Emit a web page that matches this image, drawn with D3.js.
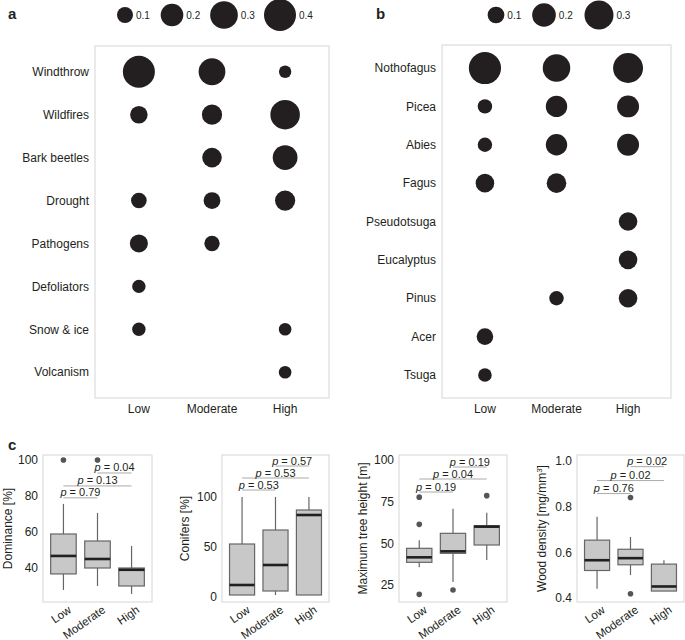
<!DOCTYPE html>
<html><head><meta charset="utf-8">
<script src="https://cdn.jsdelivr.net/npm/d3@7"></script>
<style>
body{margin:0;background:#fff;}
text{font-family:"Liberation Sans",Arial,sans-serif;fill:#231f20;}
</style></head>
<body><svg id="c" width="685" height="640"></svg>
<script>
// ---------- DATA ----------
const levels = ["Low","Moderate","High"];

const disturbances = ["Windthrow","Wildfires","Bark beetles","Drought","Pathogens","Defoliators","Snow & ice","Volcanism"];
const distLow      = [0.40, 0.12, null, 0.095, 0.127, 0.07, 0.07, null];
const distModerate = [0.28, 0.16, 0.15, 0.11, 0.092, null, null, null];
const distHigh     = [0.06, 0.34, 0.24, 0.16, null, null, 0.062, 0.062];
const legendA = [0.1, 0.2, 0.3, 0.4];

const genera = ["Nothofagus","Picea","Abies","Fagus","Pseudotsuga","Eucalyptus","Pinus","Acer","Tsuga"];
const genLow      = [0.37, 0.074, 0.074, 0.123, null, null, null, 0.098, 0.066];
const genModerate = [0.27, 0.163, 0.163, 0.137, null, null, 0.074, null, null];
const genHigh     = [0.32, 0.172, 0.172, null, 0.123, 0.123, 0.123, null, null];
const legendB = [0.1, 0.2, 0.3];

// box stats: [whiskerLow, Q1, median, Q3, whiskerHigh]
const dominanceBoxes = [[27.8,36.7,46.7,58.9,75.6],[30,40,45,55,70.6],[25.6,30,39,40,52.2]];
const dominanceOutliers = [[100],[100],[]];
const dominanceP = [["Low","Moderate","0.79",79],["Low","High","0.13",85.6],["Moderate","High","0.04",92.8]];
const dominanceTicks = [40,60,80,100];

const coniferBoxes = [[2,2,12,53,100],[2,6,32,67,100],[2,2,82,87,100]];
const coniferOutliers = [[],[],[]];
const coniferP = [["Low","Moderate","0.53",107],["Low","High","0.53",119],["Moderate","High","0.57",131]];
const coniferTicks = [0,50,100];

const heightBoxes = [[35.6,38.6,41.6,47,51.8],[26.8,44,45.2,56,70.8],[40,49,60,60.6,68.4]];
const heightOutliers = [[77.7,61.4,19.4],[22],[78.6]];
const heightP = [["Low","Moderate","0.19",80.8],["Low","High","0.04",88.6],["Moderate","High","0.19",95.8]];
const heightTicks = [25,50,75,100];

const densityBoxes = [[0.44,0.52,0.565,0.653,0.755],[0.5,0.545,0.574,0.613,0.667],[0.43,0.43,0.45,0.548,0.565]];
const densityOutliers = [[],[0.84,0.418],[]];
const densityP = [["Low","Moderate","0.76",0.857],["Low","High","0.02",0.914],["Moderate","High","0.02",0.975]];
const densityTicks = [0.4,0.6,0.8,1.0];

// ---------- DRAW ----------
const svg = d3.select("#c");
const FONT = "Liberation Sans, Arial, sans-serif";

function panelLabel(t,x,y){
  svg.append("text").attr("x",x).attr("y",y).attr("font-size",15).attr("font-weight","bold").text(t);
}

function bubblePanel(opt){
  const {rows, series, legend, left, right, top, bottom, rMax, vMax, legendX} = opt;
  const x = d3.scalePoint().domain(levels).range([left,right]).padding(0.6);
  const y = d3.scalePoint().domain(rows).range([top,bottom]).padding(0.6);
  const r = d3.scaleSqrt().domain([0,vMax]).range([0,rMax]);
  const g = svg.append("g");
  g.append("rect").attr("x",left).attr("y",top).attr("width",right-left).attr("height",bottom-top)
    .attr("fill","none").attr("stroke","#d6d6d6").attr("stroke-width",1);
  const pts = [];
  series.forEach((vals,i)=>vals.forEach((v,j)=>{ if(v!=null) pts.push({lvl:levels[i],row:rows[j],v}); }));
  g.selectAll("circle.pt").data(pts).join("circle").attr("class","pt")
    .attr("cx",d=>x(d.lvl)).attr("cy",d=>y(d.row)).attr("r",d=>r(d.v)).attr("fill","#231f20");
  g.selectAll("text.row").data(rows).join("text").attr("class","row")
    .attr("x",left-6).attr("y",d=>y(d)).attr("dy","0.35em").attr("text-anchor","end")
    .attr("font-size",12).attr("fill","#333").text(d=>d);
  g.selectAll("text.col").data(levels).join("text").attr("class","col")
    .attr("x",d=>x(d)).attr("y",bottom+15).attr("text-anchor","middle")
    .attr("font-size",12).attr("fill","#333").text(d=>d);
  const lg = svg.append("g");
  legend.forEach((v,i)=>{
    const cx = legendX[i];
    lg.append("circle").attr("cx",cx).attr("cy",15).attr("r",r(v)).attr("fill","#231f20");
    lg.append("text").attr("x",cx+r(v)+3).attr("y",15).attr("dy","0.35em").attr("font-size",10)
      .attr("fill","#555").text(v.toFixed(1));
  });
}

bubblePanel({rows:disturbances, series:[distLow,distModerate,distHigh], legend:legendA,
  left:95,right:329,top:46,bottom:398,rMax:16,vMax:0.4,legendX:[125,172,224,280]});
bubblePanel({rows:genera, series:[genLow,genModerate,genHigh], legend:legendB,
  left:442,right:671,top:45,bottom:398,rMax:14.5,vMax:0.3,legendX:[496,544,599]});

panelLabel("a",8,19);
panelLabel("b",376,19);
panelLabel("c",8,450);

function boxPanel(opt){
  const {left,right,top,bottom,domain,ticks,fmt,boxes,outliers,pvals,ylabel,ylabelX} = opt;
  const x = d3.scalePoint().domain(levels).range([left,right]).padding(0.6);
  const y = d3.scaleLinear().domain(domain).range([bottom,top]);
  const bw = x.step()*0.75;
  const g = svg.append("g");
  g.append("rect").attr("x",left).attr("y",top).attr("width",right-left).attr("height",bottom-top)
    .attr("fill","none").attr("stroke","#d6d6d6").attr("stroke-width",1);
  const axis = d3.axisLeft(y).tickValues(ticks).tickSize(0).tickPadding(5).tickFormat(fmt);
  const ag = g.append("g").attr("transform",`translate(${left},0)`).call(axis);
  ag.select(".domain").remove();
  ag.selectAll("text").attr("font-size",12).attr("fill","#333").attr("font-family",FONT);
  boxes.forEach((b,i)=>{
    const cx = x(levels[i]);
    g.append("line").attr("x1",cx).attr("x2",cx).attr("y1",y(b[0])).attr("y2",y(b[1])).attr("stroke","#666").attr("stroke-width",1.2);
    g.append("line").attr("x1",cx).attr("x2",cx).attr("y1",y(b[3])).attr("y2",y(b[4])).attr("stroke","#666").attr("stroke-width",1.2);
    g.append("rect").attr("x",cx-bw/2).attr("y",y(b[3])).attr("width",bw).attr("height",Math.max(0.5,y(b[1])-y(b[3])))
      .attr("fill","#c8c8c8").attr("stroke","#666").attr("stroke-width",1.2);
    g.append("line").attr("x1",cx-bw/2).attr("x2",cx+bw/2).attr("y1",y(b[2])).attr("y2",y(b[2])).attr("stroke","#231f20").attr("stroke-width",2.6);
    outliers[i].forEach(o=>{
      g.append("circle").attr("cx",cx).attr("cy",y(o)).attr("r",2.8).attr("fill","#555");
    });
  });
  pvals.forEach(p=>{
    const x1 = x(p[0]), x2 = x(p[1]), yy = y(p[3]);
    g.append("line").attr("x1",x1).attr("x2",x2).attr("y1",yy).attr("y2",yy).attr("stroke","#aaa").attr("stroke-width",1);
    const t = g.append("text").attr("x",(x1+x2)/2).attr("y",yy-1.5).attr("text-anchor","middle").attr("font-size",11).attr("fill","#333");
    t.append("tspan").attr("font-style","italic").text("p");
    t.append("tspan").text(" = "+p[2]);
  });
  g.selectAll("text.xl").data(levels).join("text").attr("class","xl")
    .attr("transform",d=>`translate(${x(d)+4},${bottom+3}) rotate(-35)`)
    .attr("dy","0.71em").attr("text-anchor","end").attr("font-size",11.5).attr("fill","#333").text(d=>d);
  const yl = g.append("text").attr("transform",`translate(${ylabelX},${(top+bottom)/2}) rotate(-90)`)
    .attr("text-anchor","middle").attr("dy","0.35em").attr("font-size",12).attr("fill","#333");
  ylabel(yl);
}

boxPanel({left:43,right:152,top:455,bottom:602,domain:[21.1,102.8],ticks:dominanceTicks,fmt:d3.format("d"),
  boxes:dominanceBoxes,outliers:dominanceOutliers,pvals:dominanceP,ylabelX:8,
  ylabel:t=>t.text("Dominance [%]")});
boxPanel({left:222,right:329,top:455,bottom:602,domain:[-5,142],ticks:coniferTicks,fmt:d3.format("d"),
  boxes:coniferBoxes,outliers:coniferOutliers,pvals:coniferP,ylabelX:185,
  ylabel:t=>t.text("Conifers [%]")});
boxPanel({left:399,right:507,top:455,bottom:602,domain:[14.8,103],ticks:heightTicks,fmt:d3.format("d"),
  boxes:heightBoxes,outliers:heightOutliers,pvals:heightP,ylabelX:363,
  ylabel:t=>t.text("Maximum tree height [m]")});
boxPanel({left:577,right:684,top:455,bottom:602,domain:[0.382,1.026],ticks:densityTicks,fmt:d3.format(".1f"),
  boxes:densityBoxes,outliers:densityOutliers,pvals:densityP,ylabelX:542,
  ylabel:t=>{t.append("tspan").text("Wood density [mg/mm");
    t.append("tspan").attr("baseline-shift","super").attr("font-size",8).text("3");
    t.append("tspan").text("]");}});
</script></body></html>
